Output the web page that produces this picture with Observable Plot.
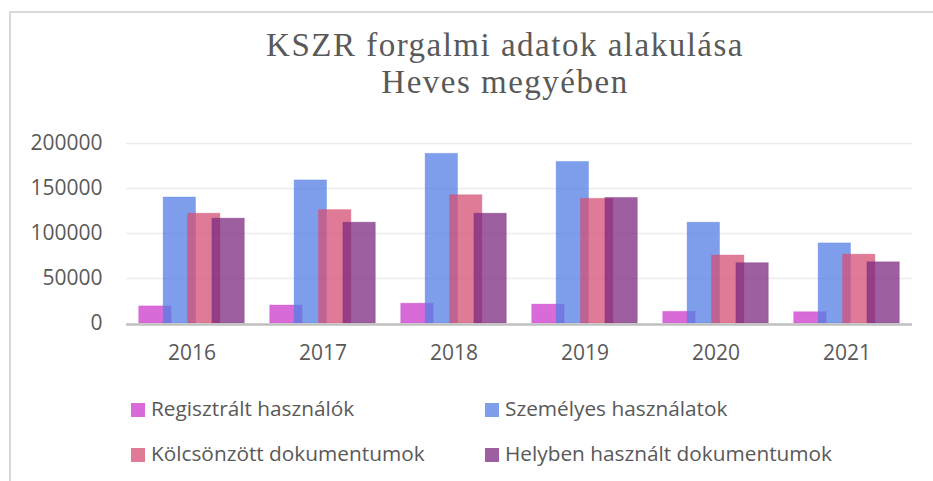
<!DOCTYPE html>
<html>
<head>
<meta charset="utf-8">
<script src="https://cdn.jsdelivr.net/npm/d3@7"></script>
<script src="https://cdn.jsdelivr.net/npm/@observablehq/plot@0.6"></script>
<style>
  html, body { margin: 0; padding: 0; background: #fff; }
  #wrap { position: relative; width: 933px; height: 481px; overflow: hidden; background: #fff; }
  #frame { position: absolute; left: 9px; top: 11px; width: 940px; height: 480px; border-left: 2px solid #d9d9d9; border-top: 2px solid #d9d9d9; }
  #title { position: absolute; left: 205px; width: 600px; top: 27px; text-align: center;
           font-family: "Liberation Serif", serif; font-size: 33px; line-height: 37px; letter-spacing: 1.5px; color: #595959; }
  #chart { position: absolute; left: 0; top: 120px; }
  .leg { position: absolute; font-family: "Open Sans", sans-serif; font-size: 20.8px; color: #595959; line-height: 24px; height: 24px; white-space: nowrap; }
  .leg span.sw { display: inline-block; width: 14px; height: 14px; margin-right: 6px; vertical-align: -1px; }
</style>
</head>
<body>
<div id="wrap">
  <div id="frame"></div>
  <div id="title">KSZR forgalmi adatok alakulása<br>Heves megyében</div>
  <div id="chart"></div>
  <div id="legend"></div>
</div>
<script>
const years = ["2016", "2017", "2018", "2019", "2020", "2021"];
const seriesNames = ["Regisztrált használók", "Személyes használatok", "Kölcsönzött dokumentumok", "Helyben használt dokumentumok"];
const regisztralt = [19000, 20000, 22000, 21000, 13000, 12500];
const szemelyes = [140000, 159000, 188500, 179500, 112000, 89000];
const kolcsonzott = [122000, 126000, 142500, 138500, 75500, 76500];
const helyben = [116500, 112000, 122000, 139500, 67000, 68000];
const yTicks = [0, 50000, 100000, 150000, 200000];
const colors = ["#cb3acb", "#537ee4", "#d64f74", "#7c2a7f"];

const seriesValues = [regisztralt, szemelyes, kolcsonzott, helyben];
const data = [];
years.forEach((yr, i) => {
  seriesNames.forEach((s, j) => data.push({year: yr, series: s, value: seriesValues[j][i]}));
});

const chart = Plot.plot({
  width: 933,
  height: 260,
  marginLeft: 126,
  marginRight: 21,
  marginTop: 23,
  marginBottom: 57,
  style: {fontFamily: "Open Sans, sans-serif", fontSize: "21px", color: "#595959", background: "transparent"},
  facet: {data, x: "year"},
  fx: {domain: years, padding: 0, label: null, tickSize: 0, tickPadding: 22, round: false},
  x: {domain: seriesNames, axis: null, paddingInner: 0, paddingOuter: 0.685, round: false},
  y: {domain: [0, 200000], ticks: yTicks, tickFormat: d3.format("d"), tickSize: 0, tickPadding: 24, label: null},
  color: {domain: seriesNames, range: colors},
  marks: [
    Plot.ruleY(yTicks.slice(1), {stroke: "#ececec", strokeWidth: 1.5}),
    Plot.barY(data, {x: "series", y: "value", fill: "series", fillOpacity: 0.75,
      stroke: "series", strokeOpacity: 0.3, strokeWidth: 1,
      insetLeft: -4, insetRight: -4}),
    Plot.ruleY([0], {stroke: "#bfbfbf", strokeWidth: 2.5, dy: 1})
  ]
});
document.getElementById("chart").appendChild(chart);

const legend = document.getElementById("legend");
const legPos = [[131, 396], [485, 396], [131, 441], [485, 441]];
seriesNames.forEach((s, j) => {
  const d = document.createElement("div");
  d.className = "leg";
  d.style.left = legPos[j][0] + "px";
  d.style.top = legPos[j][1] + "px";
  const sw = document.createElement("span");
  sw.className = "sw";
  sw.style.background = colors[j];
  sw.style.opacity = 0.75;
  d.appendChild(sw);
  d.appendChild(document.createTextNode(s));
  legend.appendChild(d);
});
</script>
</body>
</html>
